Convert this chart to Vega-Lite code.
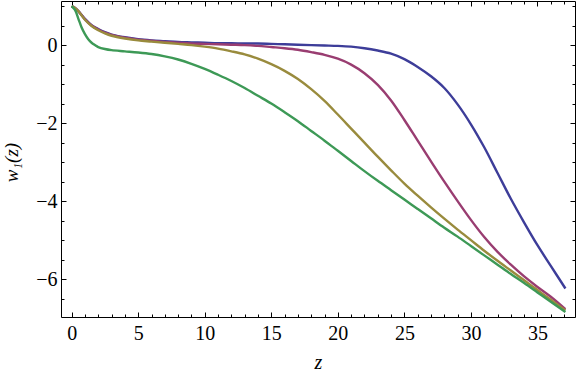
{
"$schema": "https://vega.github.io/schema/vega-lite/v6.json",
"width": 514, "height": 316,
"autosize": {"type": "none"},
"padding": {"left": 61, "top": 1, "right": 1, "bottom": 59},
"background": "white",
"config": {"view": {"stroke": null}, "axis": {"grid": false, "domainColor": "black", "tickColor": "black", "labelColor": "black", "titleColor": "black", "labelFont": "Liberation Serif", "titleFont": "Liberation Serif", "labelFontSize": 20, "titleFontSize": 20, "titleFontWeight": "normal", "domainWidth": 1, "tickWidth": 1, "labelFlush": false, "labelOverlap": false}},
"datasets": {"curves": [
{"s":"a","z":0,"w":1},{"s":"a","z":0.25,"w":0.95},{"s":"a","z":0.5,"w":0.87},{"s":"a","z":0.75,"w":0.77},{"s":"a","z":1,"w":0.67},{"s":"a","z":1.5,"w":0.51},{"s":"a","z":2,"w":0.41},{"s":"a","z":2.5,"w":0.33},{"s":"a","z":3,"w":0.27},{"s":"a","z":4,"w":0.2},{"s":"a","z":5,"w":0.15},{"s":"a","z":6,"w":0.12},{"s":"a","z":7,"w":0.1},{"s":"a","z":8,"w":0.08},{"s":"a","z":9,"w":0.07},{"s":"a","z":10,"w":0.06},{"s":"a","z":11,"w":0.05},{"s":"a","z":12,"w":0.05},{"s":"a","z":13,"w":0.04},{"s":"a","z":14,"w":0.04},{"s":"a","z":15,"w":0.03},{"s":"a","z":16,"w":0.02},{"s":"a","z":17,"w":0.01},{"s":"a","z":18,"w":0.0},{"s":"a","z":19,"w":-0.01},{"s":"a","z":20,"w":-0.02},{"s":"a","z":21,"w":-0.04},{"s":"a","z":22,"w":-0.08},{"s":"a","z":23,"w":-0.14},{"s":"a","z":24,"w":-0.22},{"s":"a","z":25,"w":-0.36},{"s":"a","z":26,"w":-0.56},{"s":"a","z":27,"w":-0.8},{"s":"a","z":28,"w":-1.1},{"s":"a","z":29,"w":-1.52},{"s":"a","z":30,"w":-2.03},{"s":"a","z":31,"w":-2.62},{"s":"a","z":32,"w":-3.28},{"s":"a","z":33,"w":-3.94},{"s":"a","z":34,"w":-4.55},{"s":"a","z":35,"w":-5.13},{"s":"a","z":36,"w":-5.66},{"s":"a","z":37.1,"w":-6.24},
{"s":"b","z":0,"w":1},{"s":"b","z":0.25,"w":0.95},{"s":"b","z":0.5,"w":0.87},{"s":"b","z":0.75,"w":0.77},{"s":"b","z":1,"w":0.66},{"s":"b","z":1.5,"w":0.5},{"s":"b","z":2,"w":0.4},{"s":"b","z":2.5,"w":0.32},{"s":"b","z":3,"w":0.26},{"s":"b","z":4,"w":0.19},{"s":"b","z":5,"w":0.14},{"s":"b","z":6,"w":0.11},{"s":"b","z":7,"w":0.08},{"s":"b","z":8,"w":0.06},{"s":"b","z":9,"w":0.04},{"s":"b","z":10,"w":0.03},{"s":"b","z":11,"w":0.02},{"s":"b","z":12,"w":0.01},{"s":"b","z":13,"w":0.0},{"s":"b","z":14,"w":-0.02},{"s":"b","z":15,"w":-0.05},{"s":"b","z":16,"w":-0.08},{"s":"b","z":17,"w":-0.12},{"s":"b","z":18,"w":-0.18},{"s":"b","z":19,"w":-0.25},{"s":"b","z":20,"w":-0.35},{"s":"b","z":21,"w":-0.5},{"s":"b","z":22,"w":-0.72},{"s":"b","z":23,"w":-1.02},{"s":"b","z":24,"w":-1.42},{"s":"b","z":25,"w":-1.92},{"s":"b","z":26,"w":-2.45},{"s":"b","z":27,"w":-2.98},{"s":"b","z":28,"w":-3.5},{"s":"b","z":29,"w":-4.0},{"s":"b","z":30,"w":-4.48},{"s":"b","z":31,"w":-4.92},{"s":"b","z":32,"w":-5.3},{"s":"b","z":33,"w":-5.63},{"s":"b","z":34,"w":-5.93},{"s":"b","z":35,"w":-6.2},{"s":"b","z":36,"w":-6.45},{"s":"b","z":37.1,"w":-6.77},
{"s":"c","z":0,"w":1},{"s":"c","z":0.25,"w":0.95},{"s":"c","z":0.5,"w":0.87},{"s":"c","z":0.75,"w":0.76},{"s":"c","z":1,"w":0.65},{"s":"c","z":1.5,"w":0.49},{"s":"c","z":2,"w":0.38},{"s":"c","z":2.5,"w":0.3},{"s":"c","z":3,"w":0.24},{"s":"c","z":4,"w":0.17},{"s":"c","z":5,"w":0.12},{"s":"c","z":6,"w":0.09},{"s":"c","z":7,"w":0.06},{"s":"c","z":8,"w":0.03},{"s":"c","z":9,"w":0.0},{"s":"c","z":10,"w":-0.04},{"s":"c","z":11,"w":-0.09},{"s":"c","z":12,"w":-0.16},{"s":"c","z":13,"w":-0.24},{"s":"c","z":14,"w":-0.35},{"s":"c","z":15,"w":-0.49},{"s":"c","z":16,"w":-0.66},{"s":"c","z":17,"w":-0.87},{"s":"c","z":18,"w":-1.13},{"s":"c","z":19,"w":-1.43},{"s":"c","z":20,"w":-1.78},{"s":"c","z":21,"w":-2.14},{"s":"c","z":22,"w":-2.5},{"s":"c","z":23,"w":-2.86},{"s":"c","z":24,"w":-3.21},{"s":"c","z":25,"w":-3.55},{"s":"c","z":26,"w":-3.86},{"s":"c","z":27,"w":-4.16},{"s":"c","z":28,"w":-4.45},{"s":"c","z":29,"w":-4.73},{"s":"c","z":30,"w":-5.0},{"s":"c","z":31,"w":-5.27},{"s":"c","z":32,"w":-5.53},{"s":"c","z":33,"w":-5.78},{"s":"c","z":34,"w":-6.03},{"s":"c","z":35,"w":-6.28},{"s":"c","z":36,"w":-6.53},{"s":"c","z":37.1,"w":-6.8},
{"s":"d","z":0,"w":1},{"s":"d","z":0.25,"w":0.9},{"s":"d","z":0.5,"w":0.68},{"s":"d","z":0.75,"w":0.45},{"s":"d","z":1,"w":0.28},{"s":"d","z":1.25,"w":0.15},{"s":"d","z":1.5,"w":0.06},{"s":"d","z":1.75,"w":0.0},{"s":"d","z":2,"w":-0.05},{"s":"d","z":2.5,"w":-0.1},{"s":"d","z":3,"w":-0.13},{"s":"d","z":4,"w":-0.16},{"s":"d","z":5,"w":-0.19},{"s":"d","z":6,"w":-0.23},{"s":"d","z":7,"w":-0.29},{"s":"d","z":8,"w":-0.37},{"s":"d","z":9,"w":-0.48},{"s":"d","z":10,"w":-0.61},{"s":"d","z":11,"w":-0.76},{"s":"d","z":12,"w":-0.92},{"s":"d","z":13,"w":-1.1},{"s":"d","z":14,"w":-1.3},{"s":"d","z":15,"w":-1.5},{"s":"d","z":16,"w":-1.72},{"s":"d","z":17,"w":-1.95},{"s":"d","z":18,"w":-2.2},{"s":"d","z":19,"w":-2.45},{"s":"d","z":20,"w":-2.71},{"s":"d","z":21,"w":-2.97},{"s":"d","z":22,"w":-3.23},{"s":"d","z":23,"w":-3.48},{"s":"d","z":24,"w":-3.72},{"s":"d","z":25,"w":-3.96},{"s":"d","z":26,"w":-4.2},{"s":"d","z":27,"w":-4.44},{"s":"d","z":28,"w":-4.68},{"s":"d","z":29,"w":-4.91},{"s":"d","z":30,"w":-5.15},{"s":"d","z":31,"w":-5.39},{"s":"d","z":32,"w":-5.63},{"s":"d","z":33,"w":-5.87},{"s":"d","z":34,"w":-6.1},{"s":"d","z":35,"w":-6.34},{"s":"d","z":36,"w":-6.58},{"s":"d","z":37.1,"w":-6.84}
]},
"data": {"name": "curves"},
"resolve": {"axis": {"x": "independent", "y": "independent"}},
"layer": [
{"mark": {"type": "line", "strokeWidth": 2.4, "interpolate": "catmull-rom", "clip": true},
 "encoding": {
  "x": {"field": "z", "type": "quantitative", "scale": {"domain": [-0.8, 37.82], "nice": false, "zero": false},
        "axis": {"orient": "bottom", "values": [0,5,10,15,20,25,30,35], "ticks": false, "labelPadding": 6, "title": "z", "titleFontStyle": "italic", "titleX": 257, "titleY": 51, "titleAlign": "center", "titleBaseline": "alphabetic"}},
  "y": {"field": "w", "type": "quantitative", "scale": {"domain": [-6.97, 1.13], "nice": false, "zero": false},
        "axis": {"orient": "left", "values": [-6,-4,-2,0], "ticks": false, "labelPadding": 4, "title": "w₁(z)", "titleFontStyle": "italic", "titleFontSize": 19, "titleAngle": -90, "titleX": -44, "titleY": 161, "titleAlign": "center", "titleBaseline": "alphabetic"}},
  "color": {"field": "s", "type": "nominal", "legend": null, "scale": {"domain": ["a","b","c","d"], "range": ["#3D3D99","#993D71","#998B3D","#3D9956"]}}
 }},
{"mark": {"type": "line", "opacity": 0},
 "encoding": {
  "x": {"field": "z", "type": "quantitative", "scale": {"domain": [-0.8, 37.82], "nice": false, "zero": false},
        "axis": {"orient": "bottom", "values": [0,5,10,15,20,25,30,35], "labels": false, "tickSize": -5, "domain": false, "title": null}},
  "y": {"field": "w", "type": "quantitative", "scale": {"domain": [-6.97, 1.13], "nice": false, "zero": false},
        "axis": {"orient": "left", "values": [-6,-4,-2,0], "labels": false, "tickSize": -5, "domain": false, "title": null}}
 }},
{"mark": {"type": "line", "opacity": 0},
 "encoding": {
  "x": {"field": "z", "type": "quantitative", "scale": {"domain": [-0.8, 37.82], "nice": false, "zero": false},
        "axis": {"orient": "bottom", "values": [0,1,2,3,4,5,6,7,8,9,10,11,12,13,14,15,16,17,18,19,20,21,22,23,24,25,26,27,28,29,30,31,32,33,34,35,36,37], "labels": false, "tickSize": -3, "domain": false, "title": null}},
  "y": {"field": "w", "type": "quantitative", "scale": {"domain": [-6.97, 1.13], "nice": false, "zero": false},
        "axis": {"orient": "left", "values": [-6.5,-6,-5.5,-5,-4.5,-4,-3.5,-3,-2.5,-2,-1.5,-1,-0.5,0,0.5,1], "labels": false, "tickSize": -3, "domain": false, "title": null}}
 }},
{"mark": {"type": "line", "opacity": 0},
 "encoding": {
  "x": {"field": "z", "type": "quantitative", "scale": {"domain": [-0.8, 37.82], "nice": false, "zero": false},
        "axis": {"orient": "top", "values": [0,5,10,15,20,25,30,35], "labels": false, "tickSize": -5, "domain": true, "title": null}},
  "y": {"field": "w", "type": "quantitative", "scale": {"domain": [-6.97, 1.13], "nice": false, "zero": false},
        "axis": {"orient": "right", "values": [-6,-4,-2,0], "labels": false, "tickSize": -5, "domain": true, "title": null}}
 }},
{"mark": {"type": "line", "opacity": 0},
 "encoding": {
  "x": {"field": "z", "type": "quantitative", "scale": {"domain": [-0.8, 37.82], "nice": false, "zero": false},
        "axis": {"orient": "top", "values": [0,1,2,3,4,5,6,7,8,9,10,11,12,13,14,15,16,17,18,19,20,21,22,23,24,25,26,27,28,29,30,31,32,33,34,35,36,37], "labels": false, "tickSize": -3, "domain": false, "title": null}},
  "y": {"field": "w", "type": "quantitative", "scale": {"domain": [-6.97, 1.13], "nice": false, "zero": false},
        "axis": {"orient": "right", "values": [-6.5,-6,-5.5,-5,-4.5,-4,-3.5,-3,-2.5,-2,-1.5,-1,-0.5,0,0.5,1], "labels": false, "tickSize": -3, "domain": false, "title": null}}
 }}
]
}
